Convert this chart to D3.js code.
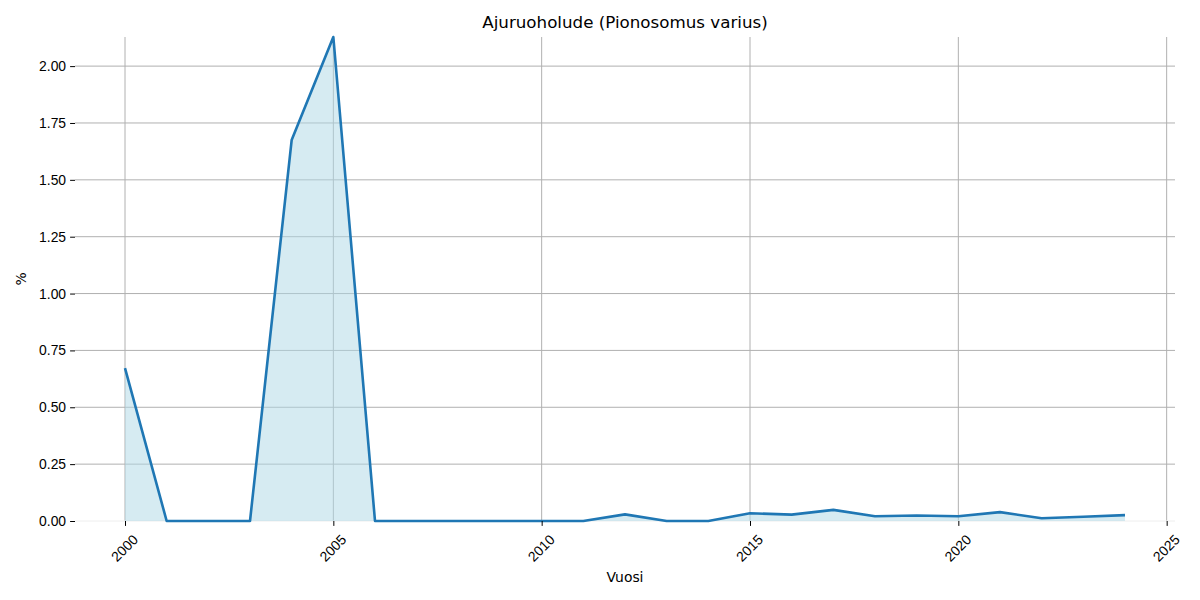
<!DOCTYPE html>
<html>
<head>
<meta charset="utf-8">
<script src="https://cdn.jsdelivr.net/npm/d3@7"></script>
<style>
  body { margin: 0; background: #fff; }
  svg { font-family: "DejaVu Sans", sans-serif; }
</style>
</head>
<body>
<svg width="1200" height="600"></svg>
<script>
// data
const years = [2000, 2001, 2002, 2003, 2004, 2005, 2006, 2007, 2008, 2009, 2010, 2011, 2012,
               2013, 2014, 2015, 2016, 2017, 2018, 2019, 2020, 2021, 2022, 2023, 2024];
const values = [0.672, 0, 0, 0, 1.675, 2.128, 0, 0, 0, 0, 0, 0, 0.029,
                0, 0, 0.034, 0.028, 0.049, 0.021, 0.024, 0.021, 0.039, 0.012, 0.019, 0.026];
const xTicks = [2000, 2005, 2010, 2015, 2020, 2025];
const yTicks = [0, 0.25, 0.5, 0.75, 1.0, 1.25, 1.5, 1.75, 2.0];

const dataset = years.map((y, i) => ({ year: y, value: values[i] }));

const width = 1200;
const height = 600;
const margin = { top: 37, right: 25, bottom: 79, left: 75 };

const svg = d3.select("svg");

const xScale = d3.scaleLinear()
    .domain([1998.8, 2025.2])
    .range([margin.left, width - margin.right]);

const yScale = d3.scaleLinear()
    .domain([0, d3.max(values)])
    .range([height - margin.bottom, margin.top]);

// grid lines
svg.append("g")
    .selectAll("line")
    .data(xTicks)
    .join("line")
    .attr("x1", d => xScale(d))
    .attr("x2", d => xScale(d))
    .attr("y1", margin.top)
    .attr("y2", height - margin.bottom)
    .attr("stroke", "#b0b0b0")
    .attr("stroke-width", 1);

svg.append("g")
    .selectAll("line")
    .data(yTicks)
    .join("line")
    .attr("x1", margin.left)
    .attr("x2", width - margin.right)
    .attr("y1", d => yScale(d))
    .attr("y2", d => yScale(d))
    .attr("stroke", d => d === 0 ? "#eeeeee" : "#b0b0b0")
    .attr("stroke-width", 1);

// area under the line
const area = d3.area()
    .x(d => xScale(d.year))
    .y0(yScale(0))
    .y1(d => yScale(d.value));

svg.append("path")
    .datum(dataset)
    .attr("d", area)
    .attr("fill", "#add8e6")
    .attr("fill-opacity", 0.5);

const line = d3.line()
    .x(d => xScale(d.year))
    .y(d => yScale(d.value));

svg.append("path")
    .datum(dataset)
    .attr("d", line)
    .attr("fill", "none")
    .attr("stroke", "#1f77b4")
    .attr("stroke-width", 2.6)
    .attr("stroke-linejoin", "round");

// x axis
const xAxis = d3.axisBottom(xScale)
    .tickValues(xTicks)
    .tickFormat(d3.format("d"))
    .tickSize(4.9)
    .tickPadding(4);

const gx = svg.append("g")
    .attr("transform", "translate(0," + (height - margin.bottom) + ")")
    .call(xAxis);
gx.select(".domain").remove();
gx.selectAll(".tick line").attr("stroke", "#000").attr("stroke-width", 1);
gx.selectAll(".tick text")
    .attr("font-size", 13.9)
    .attr("fill", "#000")
    .attr("text-anchor", "middle")
    .attr("dy", null)
    .attr("y", 0)
    .attr("x", 0)
    .attr("dominant-baseline", "central")
    .attr("transform", "translate(-1,27) rotate(-45)");

// y axis
const yAxis = d3.axisLeft(yScale)
    .tickValues(yTicks)
    .tickFormat(d3.format(".2f"))
    .tickSize(4.9)
    .tickPadding(4);

const gy = svg.append("g")
    .attr("transform", "translate(" + margin.left + ",0)")
    .call(yAxis);
gy.select(".domain").remove();
gy.selectAll(".tick line").attr("stroke", "#000").attr("stroke-width", 1);
gy.selectAll(".tick text").attr("font-size", 13.9).attr("fill", "#000");

// labels
svg.append("text")
    .attr("x", (margin.left + width - margin.right) / 2)
    .attr("y", 28)
    .attr("text-anchor", "middle")
    .attr("font-size", 16.7)
    .text("Ajuruoholude (Pionosomus varius)");

svg.append("text")
    .attr("x", 625)
    .attr("y", 582)
    .attr("text-anchor", "middle")
    .attr("font-size", 13.9)
    .text("Vuosi");

svg.append("text")
    .attr("transform", "translate(26," + ((margin.top + height - margin.bottom) / 2) + ") rotate(-90)")
    .attr("text-anchor", "middle")
    .attr("font-size", 13.9)
    .text("%");
</script>
</body>
</html>
